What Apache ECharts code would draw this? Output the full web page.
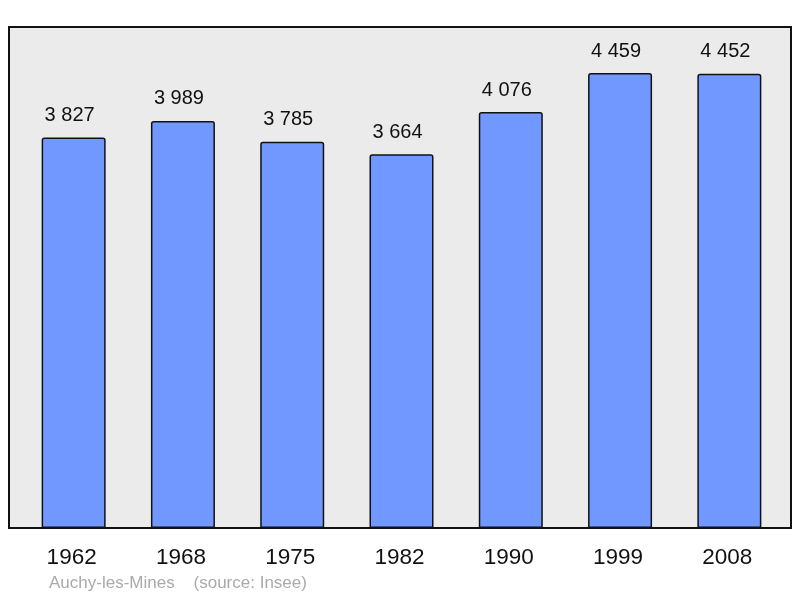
<!DOCTYPE html>
<html><head><meta charset="utf-8">
<script src="https://cdn.jsdelivr.net/npm/echarts@6/dist/echarts.min.js"></script>
<style>html,body{margin:0;padding:0;background:#fff}#c{width:800px;height:598px}</style>
</head><body><div id="c"></div>
<script>
const categories = ['1962','1968','1975','1982','1990','1999','2008'];
const population = [3827, 3989, 3785, 3664, 4076, 4459, 4452];
const footer = 'Auchy-les-Mines    (source: Insee)';

const fmt = v => String(v).replace(/\B(?=(\d{3})+(?!\d))/g, ' ');
const chart = echarts.init(document.getElementById('c'));
chart.setOption({
  animation: false,
  grid: [
    {left: 9, right: 9, top: 27, bottom: 70, show: true, backgroundColor: '#ebebeb', borderColor: '#111', borderWidth: 2, z: 0},
    {left: 19, right: 16, top: 27, bottom: 70}
  ],
  xAxis: [
    {gridIndex: 0, type: 'category', data: categories, show: false},
    {gridIndex: 1, type: 'category', data: categories,
     axisLine: {show: false}, axisTick: {show: false},
     axisLabel: {color: '#111', fontSize: 22.5, fontFamily: 'Liberation Sans', margin: 18, padding: [0, 4, 0, 0]}}
  ],
  yAxis: [
    {gridIndex: 0, type: 'value', show: false},
    {gridIndex: 1, type: 'value', min: 0, max: 4910, show: false, splitLine: {show: false}}
  ],
  series: [{
    type: 'bar', xAxisIndex: 1, yAxisIndex: 1, data: population, barWidth: 64,
    itemStyle: {color: '#7098ff', borderColor: '#111', borderWidth: 1.5, borderRadius: [2,2,0,0]},
    label: {show: true, position: 'top', distance: 12, offset: [-4, 0], color: '#111', fontSize: 20,
            fontFamily: 'Liberation Sans', formatter: p => fmt(p.value)}
  }],
  graphic: [{type: 'text', left: 49, top: 575, style: {text: footer, fill: '#aaaaaa', fontSize: 17, fontFamily: 'Liberation Sans'}}]
});
</script></body></html>
